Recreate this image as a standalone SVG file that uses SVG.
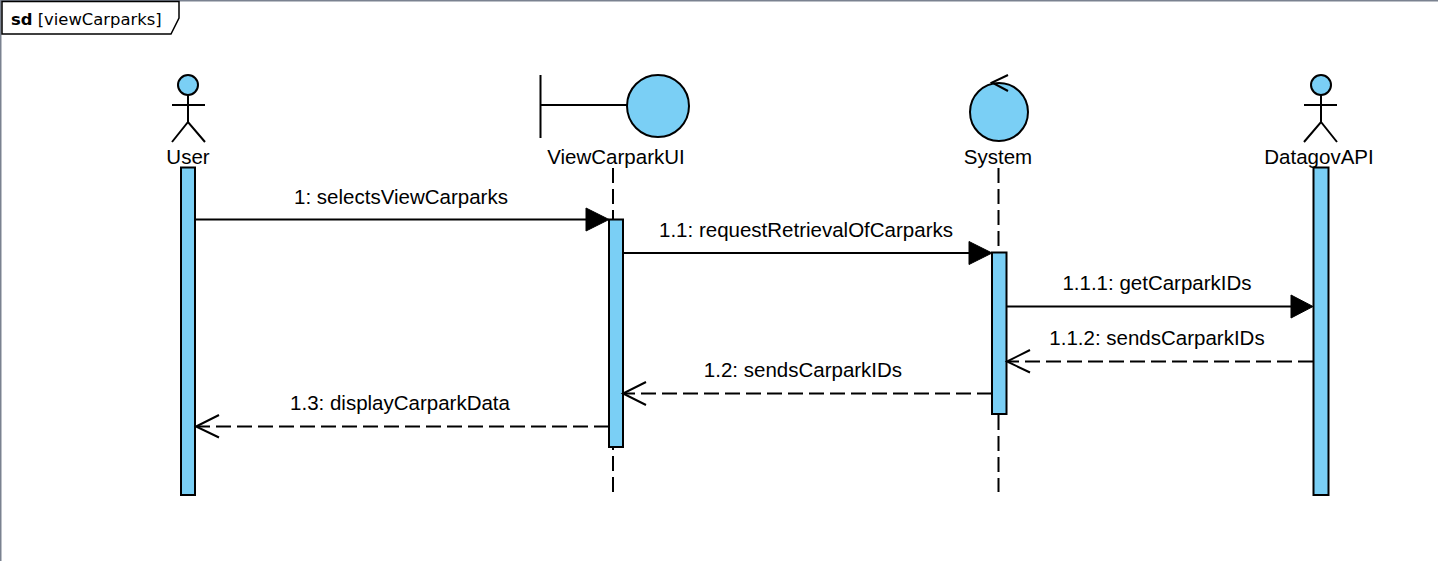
<svg xmlns="http://www.w3.org/2000/svg" width="1438" height="561" viewBox="0 0 1438 561">
<style>
text{font-family:"Liberation Sans",Arial,sans-serif;font-size:20.5px;fill:#000;text-anchor:middle}
.s{fill:none;stroke:#000;stroke-width:2}
.b{fill:#7acff5;stroke:#000;stroke-width:2}
.d{fill:none;stroke:#000;stroke-width:2;stroke-dasharray:15 6}
.f{fill:#000;stroke:#000;stroke-width:1}
</style>
<rect width="1438" height="561" fill="#fff"/>
<g id="frame">
<path d="M0.500 561V0.500H1438" fill="none" stroke="#7a8290" stroke-width="2"/>
<path d="M2 1.500H179V18L171 34H2Z" fill="#fff" stroke="#000" stroke-width="1.500"/>
<text x="11" y="25" style="font-family:'DejaVu Sans',sans-serif;font-size:16.4px;text-anchor:start"><tspan font-weight="bold">sd</tspan> [viewCarparks]</text>
</g>
<g id="lifelines">
<path class="d" d="M613 168V219M613 492V447M998.500 168V252M998.500 415V492"/>
</g>
<g id="user">
<circle class="b" cx="188" cy="85" r="10"/>
<path class="s" d="M188 95V122M172 105H205M172 142L188 122L205 142"/>
<text x="188" y="164">User</text>
<rect class="b" x="181" y="167.500" width="14" height="327.500"/>
</g>
<g id="viewCarparkUI">
<path class="s" d="M540.500 75V138M540.500 105H627"/>
<circle class="b" cx="658" cy="106" r="31"/>
<text x="616" y="164">ViewCarparkUI</text>
<rect class="b" x="609" y="219.500" width="14" height="227.500"/>
</g>
<g id="system">
<circle class="b" cx="999" cy="112" r="29"/>
<path class="s" d="M1008 75L992 82.500L1008 91"/>
<text x="998" y="164">System</text>
<rect class="b" x="992" y="252.500" width="14.500" height="161.500"/>
</g>
<g id="datagovAPI">
<circle class="b" cx="1321" cy="85" r="10"/>
<path class="s" d="M1321 95V122M1304 105H1337M1304 142L1321 122L1337 142"/>
<text x="1319" y="164">DatagovAPI</text>
<rect class="b" x="1313.500" y="167.500" width="15" height="327.500"/>
</g>
<g id="connectors">
<path class="s" d="M195 219.500H590"/>
<path class="f" d="M609 219.500L586 208V231Z"/>
<text x="401" y="204">1: selectsViewCarparks</text>
<path class="s" d="M623 253H975"/>
<path class="f" d="M992 253L969 241.500V264.500Z"/>
<text x="806" y="237">1.1: requestRetrievalOfCarparks</text>
<path class="s" d="M1007 306.500H1295"/>
<path class="f" d="M1313 306.500L1291 295V318Z"/>
<text x="1157" y="290">1.1.1: getCarparkIDs</text>
<path class="d" d="M1313 361.500H1008"/>
<path class="s" d="M1030 350L1007 361.500L1030 372.500"/>
<text x="1157" y="345">1.1.2: sendsCarparkIDs</text>
<path class="d" d="M992 393.500H624"/>
<path class="s" d="M646 382L623 393.500L646 405"/>
<text x="803" y="377">1.2: sendsCarparkIDs</text>
<path class="d" d="M609 426.500H197"/>
<path class="s" d="M219 415L196 426.500L219 437.500"/>
<text x="400" y="410">1.3: displayCarparkData</text>
</g>
</svg>
